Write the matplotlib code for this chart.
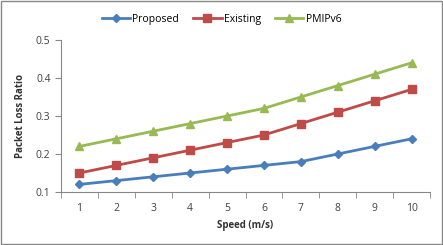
import matplotlib
matplotlib.use("Agg")
import matplotlib.pyplot as plt
from matplotlib.patches import Rectangle

speeds = [1, 2, 3, 4, 5, 6, 7, 8, 9, 10]
proposed = [0.12, 0.13, 0.14, 0.15, 0.16, 0.17, 0.18, 0.20, 0.22, 0.24]
existing = [0.15, 0.17, 0.19, 0.21, 0.23, 0.25, 0.28, 0.31, 0.34, 0.37]
pmipv6 = [0.22, 0.24, 0.26, 0.28, 0.30, 0.32, 0.35, 0.38, 0.41, 0.44]

plt.rcParams['font.family'] = ['Open Sans', 'DejaVu Sans']

fig = plt.figure(figsize=(4.43, 2.45), dpi=100)
ax = fig.add_axes([61/443, 1-192/245, (430-61)/443, (192-40)/245])

ax.plot(speeds, proposed, color='#4A7EBB', marker='D', markersize=4.5, lw=2, label='Proposed')
ax.plot(speeds, existing, color='#BE4B48', marker='s', markersize=5.5, lw=2, label='Existing')
ax.plot(speeds, pmipv6, color='#98B954', marker='^', markersize=6, lw=2, label='PMIPv6')

ax.set_xlim(0.5, 10.5)
ax.set_ylim(0.1, 0.5)
ax.set_yticks([0.1, 0.2, 0.3, 0.4, 0.5])
ax.set_yticklabels(['0.1', '0.2', '0.3', '0.4', '0.5'])
ax.set_xticks(speeds)
ax.set_xticks([x + 0.5 for x in range(0, 11)], minor=True)
ax.tick_params(axis='x', which='major', length=0, labelsize=7.5, pad=8, colors='#404040')
ax.tick_params(axis='x', which='minor', length=4, color='#888888', direction='out')
ax.tick_params(axis='y', length=4, color='#888888', labelsize=7.5, colors='#404040')
ax.tick_params(axis='y', color='#888888')
ax.spines['top'].set_visible(False)
ax.spines['right'].set_visible(False)
ax.spines['left'].set_color('#888888')
ax.spines['bottom'].set_color('#888888')

ax.set_xlabel('Speed (m/s)', fontsize=7, fontweight='bold', labelpad=4, color='#333333')
ax.set_ylabel('Packet Loss Ratio', fontsize=7, fontweight='bold', labelpad=7, color='#333333')

fig.legend(loc='upper center', bbox_to_anchor=(0.5, 1.0), ncol=3, frameon=False,
           fontsize=7.5, handlelength=2.7, handletextpad=0.2, columnspacing=1.4,
           borderaxespad=0.9)

fig.patches.append(Rectangle((0.002, 0.004), 0.995, 0.992, transform=fig.transFigure,
                             fill=False, edgecolor='#888888', lw=1))

fig.savefig('out.png', dpi=100)
